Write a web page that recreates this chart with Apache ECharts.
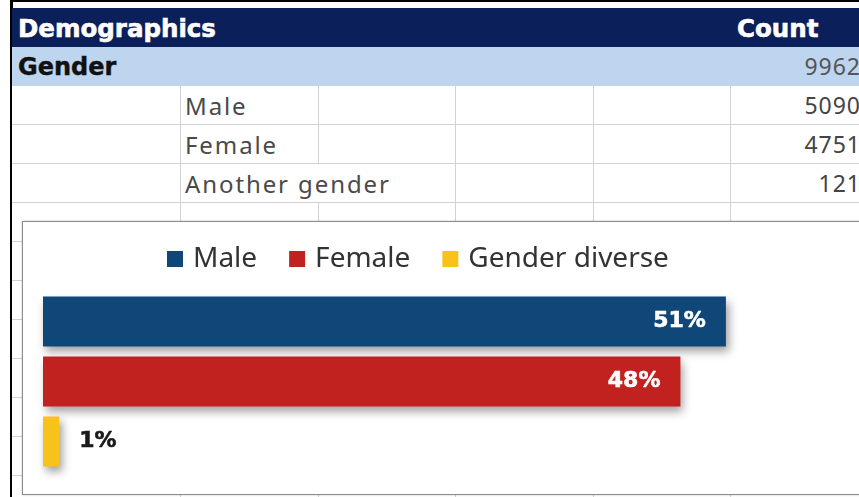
<!DOCTYPE html>
<html>
<head>
<meta charset="utf-8">
<script src="https://cdn.jsdelivr.net/npm/echarts@6/dist/echarts.min.js"></script>
<style>
  html, body { margin:0; padding:0; background:#fff; }
  #page { position:relative; width:859px; height:497px; overflow:hidden; background:#fff; }
  .abs { position:absolute; box-sizing:border-box; }
  .hdr { font-family:"DejaVu Sans", sans-serif; font-weight:bold; font-size:24.5px; color:#fff; white-space:nowrap; -webkit-text-stroke:0.6px #fff; }
  .grp { font-family:"DejaVu Sans", sans-serif; font-weight:bold; font-size:24px; color:#111; white-space:nowrap; -webkit-text-stroke:0.4px #111; }
  .cell { font-family:"Noto Sans", sans-serif; font-size:24px; color:#4a4a4a; letter-spacing:1.9px; white-space:nowrap; }
  .num { font-family:"Noto Sans", sans-serif; font-size:23px; color:#444; letter-spacing:1px; white-space:nowrap; text-align:right; }
  #chartBox { position:absolute; left:22px; top:221px; width:860px; height:274px; border:1px solid #8c8c8c; background:#fff; box-sizing:border-box; box-shadow:0 0 2px rgba(0,0,0,0.25); }
  #chart { position:absolute; left:0; top:0; width:858px; height:272px; }
</style>
</head>
<body>
<div id="page">
  <div id="chartBox"><div id="chart"></div></div>
</div>
<script>
// ---- data ----
const headerLabels = ['Demographics', 'Count'];
const groupLabel = 'Gender';
const groupTotal = 9962;
const categories = ['Male', 'Female', 'Another gender'];
const counts = [5090, 4751, 121];
const legendNames = ['Male', 'Female', 'Gender diverse'];
const pctLabels = ['51%', '48%', '1%'];
const barColors = ['#0f4778', '#c1221f', '#f7c21a'];

// ---- table (spreadsheet background) ----
const page = document.getElementById('page');
const chartBox = document.getElementById('chartBox');
function add(cls, style, text) {
  const d = document.createElement('div');
  d.className = 'abs ' + (cls || '');
  Object.assign(d.style, style);
  if (text !== undefined) d.textContent = text;
  page.insertBefore(d, chartBox);
  return d;
}
const colX = [12, 180, 318, 455, 593, 730];
const rowH = 39;
// outer black frame
add('', {left:'10px', top:'0px', width:'849px', height:'2px', background:'#000'});
add('', {left:'10px', top:'0px', width:'2px', height:'497px', background:'#000'});
add('', {left:'10px', top:'2px', width:'3px', height:'6px', background:'#000'});
// header row
add('', {left:'12px', top:'8px', width:'847px', height:'39px', background:'#0b1f5a'});
add('hdr', {left:'18px', top:'9px', height:'39px', lineHeight:'39px'}, headerLabels[0]);
add('hdr', {left:'737px', top:'9px', height:'39px', lineHeight:'39px'}, headerLabels[1]);
// group row
add('', {left:'12px', top:'47px', width:'847px', height:'39px', background:'#bdd5ee'});
add('grp', {left:'18px', top:'48px', height:'39px', lineHeight:'39px'}, groupLabel);
add('num', {left:'730px', top:'47px', width:'131px', height:'39px', lineHeight:'39px', color:'#555'}, String(groupTotal));
// body rows + grid lines
const bodyTop = 86;
const nRows = 11;
for (let c = 1; c < colX.length; c++) {
  add('', {left:colX[c] + 'px', top:bodyTop + 'px', width:'1px', height:(497 - bodyTop) + 'px', background:'#d2d2d2'});
}
for (let r = 0; r < nRows; r++) {
  const y = bodyTop + r * rowH;
  add('', {left:'12px', top:(y + rowH - 1) + 'px', width:'847px', height:'1px', background:'#d2d2d2'});
  if (r < categories.length) {
    // overflowing text hides the column line behind it, like a spreadsheet
    add('cell', {left:'181px', top:y + 'px', height:(rowH - 1) + 'px', lineHeight:rowH + 'px', paddingLeft:'4px', background:'#fff'}, categories[r]);
    add('num', {left:'730px', top:y + 'px', width:'131px', height:rowH + 'px', lineHeight:rowH + 'px'}, String(counts[r]));
  }
}
// ---- chart ----
const chart = echarts.init(document.getElementById('chart'), null, {renderer:'canvas'});
const series = legendNames.map((name, i) => ({
  name: name,
  type: 'bar',
  data: [counts[i]],
  barWidth: 50,
  barGap: '20%',
  itemStyle: {
    color: barColors[i],
    shadowColor: 'rgba(0,0,0,0.38)',
    shadowBlur: 9,
    shadowOffsetX: 3,
    shadowOffsetY: 5
  },
  label: {
    show: true,
    position: i === 2 ? 'right' : 'insideRight',
    distance: 20,
    formatter: pctLabels[i],
    color: i === 2 ? '#1a1a1a' : '#ffffff',
    fontFamily: 'DejaVu Sans',
    fontWeight: 'bold',
    fontSize: 22,
    textBorderColor: i === 2 ? '#1a1a1a' : '#ffffff',
    textBorderWidth: 0.6
  }
}));
chart.setOption({
  animation: false,
  legend: {
    data: legendNames,
    left: 139,
    top: 18,
    icon: 'rect',
    itemWidth: 16,
    itemHeight: 16,
    itemGap: 32,
    textStyle: { fontFamily: 'Noto Sans', fontSize: 28, color: '#333', padding: [0, 0, 0, 5] }
  },
  grid: { left: 20, top: 59.5, width: 805, height: 200 },
  xAxis: { type: 'value', min: 0, max: 6000, show: false },
  yAxis: { type: 'category', data: [groupLabel], inverse: true, show: false },
  series: series
});
</script>
</body>
</html>
